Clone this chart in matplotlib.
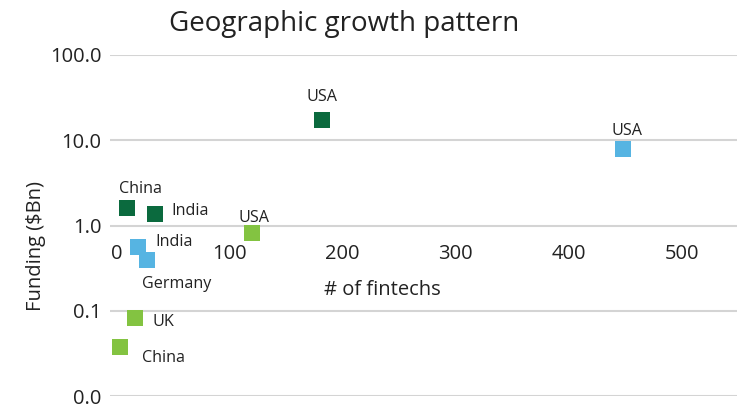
import matplotlib
matplotlib.use("Agg")
import matplotlib.pyplot as plt
from matplotlib.ticker import FixedLocator, FixedFormatter, NullLocator

plt.rcParams['font.family'] = ['Open Sans', 'DejaVu Sans']

# ---- data ----
dark_countries = ["China", "India", "USA"]
dark_fintechs = [9, 34, 182]
dark_funding = [1.60, 1.36, 17.3]

blue_countries = ["India", "Germany", "USA"]
blue_fintechs = [19, 27, 448]
blue_funding = [0.56, 0.39, 7.9]

light_countries = ["USA", "UK", "China"]
light_fintechs = [120, 16, 3]
light_funding = [0.82, 0.082, 0.038]

y_ticks = [0.01, 0.1, 1, 10, 100]
y_tick_labels = ["0.0", "0.1", "1.0", "10.0", "100.0"]
x_ticks = [0, 100, 200, 300, 400, 500]
x_tick_labels = ["0", "100", "200", "300", "400", "500"]

# ---- styling / layout ----
DARK = "#0b6a3e"
BLUE = "#56b4e2"
LIGHT = "#83c341"
TXT = "#222222"

# label offsets in pixels (dx, dy, ha)
dark_offsets = [(14, 19, "center"), (16, 3, "left"), (0, 23, "center")]
blue_offsets = [(17, 5, "left"), (-5, -24, "left"), (4, 18, "center")]
light_offsets = [(2, 15, "center"), (18, -4, "left"), (22, -11, "left")]

W, H, DPI = 737, 407, 100
fig = plt.figure(figsize=(W / DPI, H / DPI), dpi=DPI)
ax = fig.add_axes([110 / W, 11 / H, (W - 110) / W, 341 / H])

ax.set_yscale("log")
ax.set_ylim(0.01, 100)
ax.set_xlim(-6, 549)

ax.yaxis.set_major_locator(FixedLocator(y_ticks))
ax.yaxis.set_major_formatter(FixedFormatter(y_tick_labels))
ax.yaxis.set_minor_locator(NullLocator())
ax.xaxis.set_major_locator(FixedLocator(x_ticks))
ax.xaxis.set_major_formatter(FixedFormatter(x_tick_labels))

ax.grid(axis="y", color="#d4d4d4", linewidth=1.5)
ax.set_axisbelow(True)
for s in ["top", "right", "left"]:
    ax.spines[s].set_visible(False)
ax.spines["bottom"].set_position(("data", 1))
ax.spines["bottom"].set_visible(False)

ax.tick_params(axis="both", length=0, labelsize=14.5, colors=TXT)
ax.tick_params(axis="y", pad=6)
ax.tick_params(axis="x", pad=13)

ms = 11.5 ** 2
px = 72.0 / DPI
for xs, ys, names, col, offs in [
    (dark_fintechs, dark_funding, dark_countries, DARK, dark_offsets),
    (blue_fintechs, blue_funding, blue_countries, BLUE, blue_offsets),
    (light_fintechs, light_funding, light_countries, LIGHT, light_offsets),
]:
    ax.scatter(xs, ys, marker="s", s=ms, color=col, linewidths=0, zorder=3)
    for x, y, n, (dx, dy, ha) in zip(xs, ys, names, offs):
        ax.annotate(n, (x, y), xytext=(dx * px, dy * px), textcoords="offset points",
                    ha=ha, va="center", fontsize=11.6, color=TXT)

ax.set_xlabel("# of fintechs", fontsize=14.5, color=TXT)
ax.xaxis.set_label_coords(0.434, 0.34)
ax.set_ylabel("Funding ($Bn)", fontsize=14.5, color=TXT)
ax.yaxis.set_label_coords(-0.102, 0.44)

fig.text(344 / W, 1 - 24 / H, "Geographic growth pattern", ha="center", va="center",
         fontsize=20, color=TXT)

fig.savefig("out.png", dpi=DPI)
